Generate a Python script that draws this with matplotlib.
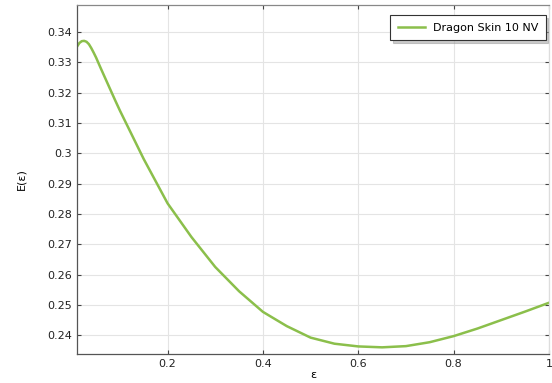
import matplotlib
matplotlib.use("Agg")
import matplotlib.pyplot as plt
from matplotlib.ticker import FuncFormatter

# strain vs. E(strain)
eps = [0.01, 0.015, 0.02, 0.025, 0.03, 0.035, 0.04, 0.045, 0.05, 0.06, 0.07, 0.08,
       0.09, 0.1, 0.125, 0.15, 0.2, 0.25, 0.3, 0.35, 0.4, 0.45, 0.5, 0.55, 0.6, 0.65,
       0.7, 0.75, 0.8, 0.85, 0.9, 0.95, 1.0]
E = [0.3352, 0.3364, 0.3370, 0.3371, 0.3368, 0.3360, 0.3347, 0.3332, 0.3316, 0.3280,
     0.3245, 0.3210, 0.3175, 0.3141, 0.3061, 0.2981, 0.2835, 0.2724, 0.2625, 0.2545,
     0.2477, 0.2430, 0.2392, 0.2372, 0.2363, 0.2360, 0.2364, 0.2377, 0.2397, 0.2422,
     0.2450, 0.2478, 0.2507]
label = "Dragon Skin 10 NV"
xticks = [0.2, 0.4, 0.6, 0.8, 1.0]
yticks = [0.24, 0.25, 0.26, 0.27, 0.28, 0.29, 0.30, 0.31, 0.32, 0.33, 0.34]

fig = plt.figure(figsize=(5.52, 3.83), dpi=100)
ax = fig.add_axes([0.1395, 0.0757, 0.855, 0.911])
ax.plot(eps, E, color="#8bbf4b", lw=1.8, label=label)

ax.set_xlim(0.01, 1.0)
ax.set_ylim(0.2338, 0.3489)
ax.set_xticks(xticks)
ax.set_yticks(yticks)
fmt = FuncFormatter(lambda v, p: f"{v:g}")
ax.xaxis.set_major_formatter(fmt)
ax.yaxis.set_major_formatter(fmt)
ax.tick_params(direction="in", length=3, width=0.8, labelsize=8, color="#444444",
               top=True, right=True, labelcolor="#222222")
ax.grid(True, color="#e4e4e4", lw=0.8)
ax.set_axisbelow(True)
for s in ax.spines.values():
    s.set_color("#555555")
    s.set_linewidth(0.9)
ax.spines["top"].set_color("#888888")
ax.spines["right"].set_color("#dddddd")

ax.set_xlabel("ε", fontsize=8, labelpad=1)
ax.set_ylabel("E(ε)", fontsize=8, labelpad=15)

leg = ax.legend(loc="upper right", fontsize=8, fancybox=False,
                shadow={"ox": 2, "oy": -2, "color": "#999999"},
                framealpha=1, edgecolor="#333333", borderpad=0.7,
                handlelength=2.4, handletextpad=0.7, bbox_to_anchor=(0.993, 0.972),
                borderaxespad=0)
leg.get_frame().set_linewidth(0.8)

fig.savefig("out.png", dpi=100)
